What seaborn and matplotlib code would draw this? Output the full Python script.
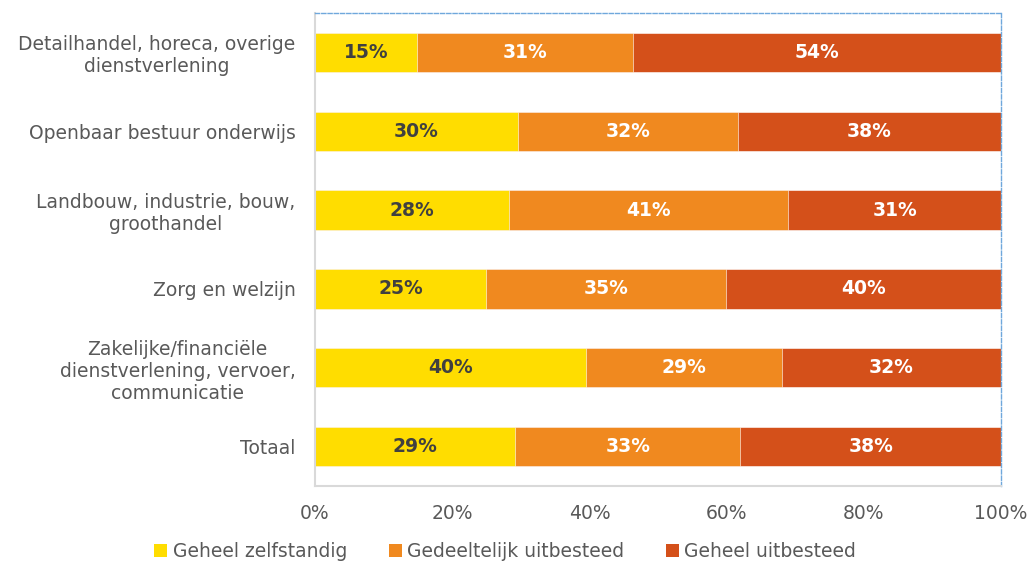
import matplotlib
matplotlib.use("Agg")
import matplotlib.pyplot as plt
from matplotlib.patches import Patch
from matplotlib.ticker import FixedLocator, MultipleLocator, PercentFormatter
import seaborn as sns
import numpy as np

# data (shares in %)
categories = [
    "Detailhandel, horeca, overige\ndienstverlening",
    "Openbaar bestuur onderwijs",
    "Landbouw, industrie, bouw,\ngroothandel",
    "Zorg en welzijn",
    "Zakelijke/financiële\ndienstverlening, vervoer,\ncommunicatie",
    "Totaal",
]
series = ["Geheel zelfstandig", "Gedeeltelijk uitbesteed", "Geheel uitbesteed"]
zelfstandig = [14.9, 29.6, 28.3, 24.9, 39.5, 29.2]
gedeeltelijk = [31.4, 32.1, 40.7, 35.0, 28.6, 32.8]
uitbesteed = [53.7, 38.3, 31.0, 40.1, 31.9, 38.0]

colors = ["#FFDD00", "#F0891F", "#D4501A"]
label_colors = ["#404040", "white", "white"]
text_grey = "#595959"

sns.set_style("white")
plt.rcParams["font.family"] = "DejaVu Sans"

fig = plt.figure(figsize=(10.31, 5.62), dpi=100)
ax = fig.add_axes([0.3055, 0.1352, 0.6654, 0.8417])

vals = np.array([zelfstandig, gedeeltelijk, uitbesteed])
cum = np.cumsum(vals, axis=0)

# stacked bars: draw the cumulative totals from back to front
for i in [2, 1, 0]:
    sns.barplot(x=cum[i], y=categories, orient="h", color=colors[i],
                width=0.5, saturation=1, ax=ax, edgecolor="white", linewidth=0.4)

# value labels in the middle of each segment
for i in range(3):
    starts = cum[i] - vals[i]
    for j in range(len(categories)):
        ax.text(starts[j] + vals[i][j] / 2, j, f"{vals[i][j]:.0f}%",
                ha="center", va="center", fontsize=13.5, fontweight="bold",
                color=label_colors[i])

ax.set_xlim(0, 100)
ax.set_ylim(5.5, -0.5)
ax.set_xlabel("")
ax.set_ylabel("")

ax.xaxis.set_major_locator(MultipleLocator(20))
ax.xaxis.set_minor_locator(MultipleLocator(2))
ax.xaxis.set_major_formatter(PercentFormatter(decimals=0))
ax.yaxis.set_minor_locator(FixedLocator(np.arange(-0.5, 6, 1)))

ax.tick_params(axis="x", which="major", length=5, color="#D9D9D9",
               labelsize=13.5, labelcolor=text_grey, pad=8)
ax.tick_params(axis="x", which="minor", length=2, direction="in", color="#BDD7EE")
ax.tick_params(axis="y", which="major", length=0, labelsize=13.5,
               labelcolor=text_grey, pad=14)
ax.tick_params(axis="y", which="minor", length=6, color="#D9D9D9")
for lab in ax.get_yticklabels():
    lab.set_multialignment("center")

for s in ["left", "bottom"]:
    ax.spines[s].set_color("#D9D9D9")
    ax.spines[s].set_linewidth(1.5)
for s in ["top", "right"]:
    ax.spines[s].set_color("#6FA8DC")
    ax.spines[s].set_linestyle((0, (3, 1.5)))
    ax.spines[s].set_linewidth(1.0)

handles = [Patch(facecolor=c, edgecolor="none") for c in colors]
fig.legend(handles, series, loc="lower center", ncol=3, frameon=False,
           bbox_to_anchor=(0.49, -0.028), fontsize=13.5, labelcolor=text_grey,
           handlelength=0.7, handleheight=0.7, handletextpad=0.3, columnspacing=2.2)

fig.savefig("out.png", dpi=100)
